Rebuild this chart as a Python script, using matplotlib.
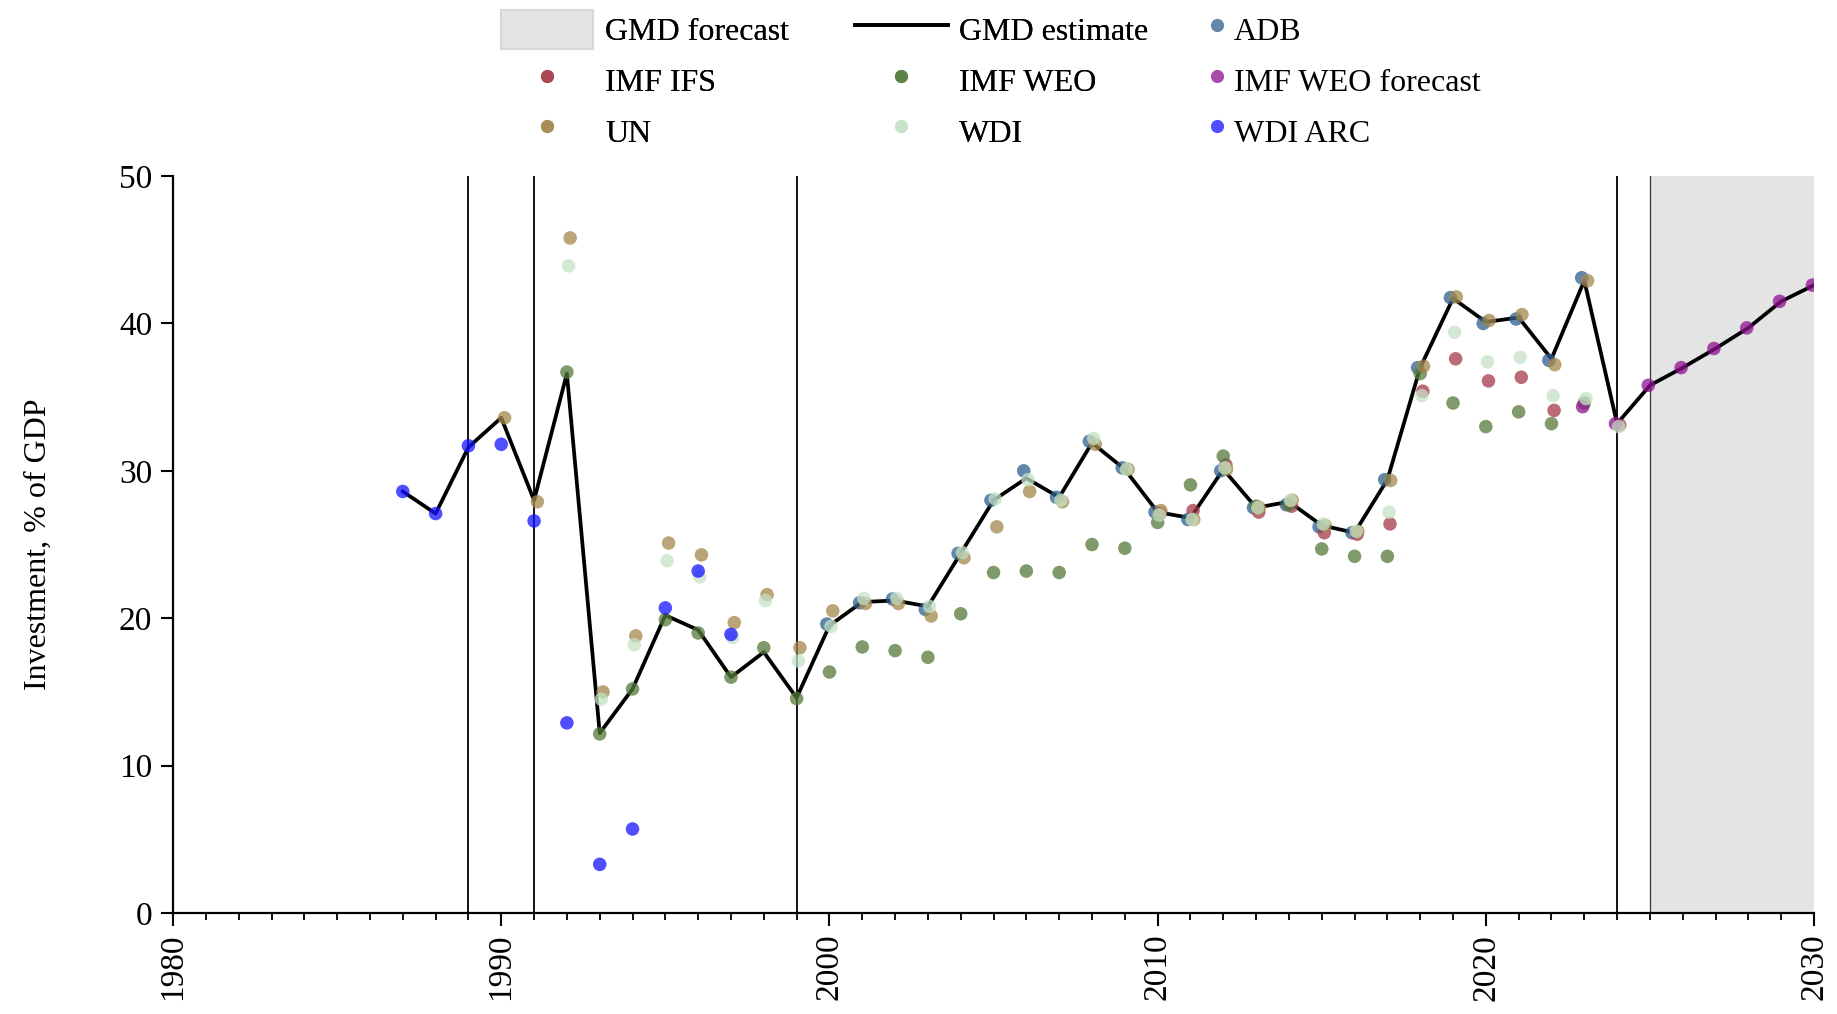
import numpy as np
import matplotlib.pyplot as plt
from matplotlib.lines import Line2D
from matplotlib.patches import Patch

# GMD estimate line
gmd_years = list(range(1987, 2031))
gmd_vals = [28.6, 27.1, 31.6, 33.6, 28.0, 36.6, 12.2, 15.2, 20.2, 19.2,
            16.0, 17.7, 14.6, 19.5, 21.1, 21.2, 20.8, 24.4, 28.0, 29.5,
            28.2, 31.9, 30.1, 27.2, 26.8, 30.1, 27.5, 27.9, 26.3, 25.8,
            29.4, 37.0, 41.7, 40.1, 40.4, 37.6, 42.9, 33.2, 35.8, 37.0,
            38.3, 39.7, 41.5, 42.6]

adb_years = list(range(2000, 2024))
adb_vals = [19.6, 21.05, 21.3, 20.6, 24.4, 28.0, 30.0, 28.2, 32.0, 30.2,
            27.2, 26.7, 30.0, 27.5, 27.7, 26.2, 25.8, 29.4, 37.0, 41.75,
            40.0, 40.3, 37.5, 43.1]

ifs_years = list(range(2010, 2023)) + [2024]
ifs_vals = [27.1, 27.3, 30.4, 27.2, 27.6, 25.8, 25.7, 26.4, 35.4, 37.6,
            36.1, 36.35, 34.1, 33.1]

weo_years = list(range(1992, 2024))
weo_vals = [36.7, 12.15, 15.2, 19.9, 19.0, 16.0, 18.0, 14.55, 16.35, 18.05,
            17.8, 17.35, 20.3, 23.1, 23.2, 23.1, 25.0, 24.75, 26.5, 29.05,
            31.0, 27.6, 27.7, 24.7, 24.2, 24.2, 36.6, 34.6, 33.0, 34.0,
            33.2, 34.6]

weof_years = list(range(2023, 2031))
weof_vals = [34.35, 33.2, 35.8, 37.0, 38.3, 39.7, 41.5, 42.6]

un_years = list(range(1990, 2024))
un_vals = [33.6, 27.9, 45.8, 15.0, 18.8, 25.1, 24.3, 19.7, 21.6, 18.0,
           20.5, 21.0, 21.0, 20.15, 24.1, 26.2, 28.6, 27.9, 31.8, 30.1,
           27.3, 26.7, 30.1, 27.5, 28.0, 26.3, 25.9, 29.35, 37.1, 41.8,
           40.2, 40.6, 37.2, 42.9]

wdi_years = list(range(1992, 2025))
wdi_vals = [43.9, 14.5, 18.2, 23.9, 22.8, 18.7, 21.2, 17.1, 19.45, 21.35,
            21.35, 20.8, 24.45, 28.1, 29.4, 28.0, 32.2, 30.1, 27.0, 26.7,
            30.2, 27.5, 28.0, 26.4, 25.9, 27.2, 35.1, 39.4, 37.4, 37.7,
            35.1, 34.9, 33.0]

arc_years = list(range(1987, 1998))
arc_vals = [28.6, 27.1, 31.7, 31.8, 26.6, 12.9, 3.3, 5.7, 20.7, 23.2, 18.9]

regime_lines = [1989, 1991, 1999, 2024]
forecast_start, forecast_end = 2025, 2030

plt.rcParams['font.family'] = ['Liberation Serif', 'DejaVu Serif']

fig = plt.figure(figsize=(18.37, 10.14), dpi=100)
ax = fig.add_axes([0.0942, 0.0996, 0.8933, 0.7268])

ax.axvspan(forecast_start, forecast_end, color='#e4e4e4', lw=0, zorder=0)
ax.axvline(forecast_start, color='#333333', lw=0.9, zorder=1)
for yr in regime_lines:
    ax.axvline(yr, color='black', lw=1.3, zorder=1)

ax.plot(gmd_years, gmd_vals, color='black', lw=2.7, zorder=3)

# source: (years, values, colour, x offset)
sources = [
    ('ADB', adb_years, adb_vals, '#2f5f8f', -0.08),
    ('IMF IFS', ifs_years, ifs_vals, '#a33a48', 0.08),
    ('IMF WEO', weo_years, weo_vals, '#55793a', 0.0),
    ('IMF WEO forecast', weof_years, weof_vals, '#8e1090', -0.05),
    ('UN', un_years, un_vals, '#a2874a', 0.1),
    ('WDI', wdi_years, wdi_vals, '#c6e2c6', 0.05),
    ('WDI ARC', arc_years, arc_vals, '#1414ff', 0.0),
]
handles = {}
for name, yrs, vals, col, off in sources:
    ax.scatter(np.array(yrs) + off, vals, s=95, color=col, alpha=0.75,
               edgecolors='none', zorder=4)
    handles[name] = Line2D([], [], ls='none', marker='o', markersize=9.5,
                           markerfacecolor=col, markeredgecolor='none', alpha=0.75)

ax.set_xlim(1980, 2030)
ax.set_ylim(0, 50)
ax.set_xticks(range(1980, 2031, 10))
ax.set_xticks(range(1980, 2031), minor=True)
ax.set_yticks(range(0, 51, 10))
ax.tick_params(axis='both', which='major', labelsize=24, width=1.5, length=9,
               direction='out', pad=6)
ax.tick_params(axis='x', which='minor', width=1.3, length=5)
for lab in ax.get_xticklabels():
    lab.set_rotation(90)
for side in ['top', 'right']:
    ax.spines[side].set_visible(False)
for side in ['left', 'bottom']:
    ax.spines[side].set_linewidth(1.6)
ax.set_ylabel('Investment, % of GDP', fontsize=23)
ax.yaxis.set_label_coords(-0.073, 0.5)

# legend: first two columns
fc_patch = Patch(facecolor='#e4e4e4', edgecolor='#d8d8d8', lw=1.5)
gmd_line = Line2D([], [], color='black', lw=2.7)
leg1 = fig.legend([fc_patch, handles['IMF IFS'], handles['UN'],
                   gmd_line, handles['IMF WEO'], handles['WDI']],
                  ['GMD forecast', 'IMF IFS', 'UN',
                   'GMD estimate', 'IMF WEO', 'WDI'],
                  ncol=2, frameon=False, fontsize=23, loc='upper left',
                  bbox_to_anchor=(0.2673, 1.0), handlelength=2.9, handleheight=1.52,
                  handletextpad=0.37, columnspacing=2.06, labelspacing=0.36,
                  borderaxespad=0, borderpad=0.3)
fig.add_artist(leg1)
# third column, dots right next to text
fig.legend([handles['ADB'], handles['IMF WEO forecast'], handles['WDI ARC']],
           ['ADB', 'IMF WEO forecast', 'WDI ARC'],
           ncol=1, frameon=False, fontsize=23, loc='upper left',
           bbox_to_anchor=(0.6527, 1.0), handlelength=0.5, handleheight=1.52,
           handletextpad=0.28, labelspacing=0.36, borderaxespad=0, borderpad=0.3)

fig.savefig('out.png', dpi=100)
